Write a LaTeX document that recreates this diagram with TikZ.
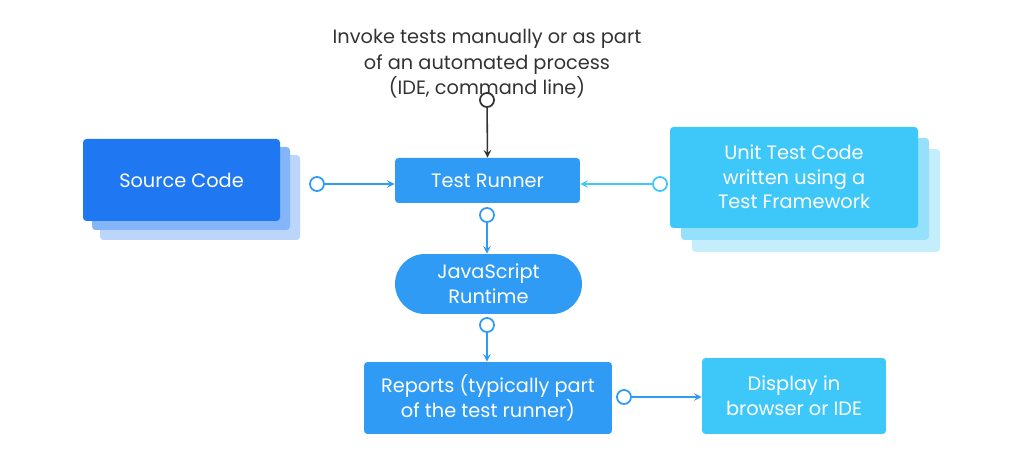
\documentclass[tikz,border=0pt]{standalone}
\usepackage{fontspec}
\setmainfont{Poppins}
\usepackage{tikz}
\usetikzlibrary{positioning}

\definecolor{deepblue}{HTML}{1F78F2}
\definecolor{midblue}{HTML}{2F9BF5}
\definecolor{skyblue}{HTML}{3EC8FA}
\definecolor{textgray}{HTML}{333333}

\tikzset{
  box/.style={rounded corners=2pt, text=white, align=center, font=\fontsize{11}{14}\selectfont},
  dot/.style={circle, draw, fill=white, line width=1pt, inner sep=0pt, minimum size=8pt},
  link/.style={->, >=stealth, line width=0.9pt}
}

\begin{document}
\begin{tikzpicture}[x=0.02cm, y=-0.02cm]
    \useasboundingbox (0,0) rectangle (1024,465);

    % Caption at the top
    \node[text=textgray, align=center, font=\fontsize{11}{14.5}\selectfont] (caption) at (487,64)
        {Invoke tests manually or as part\\of an automated process\\(IDE, command line)};

    % Stacked source code card
    \fill[deepblue!30, rounded corners=2pt] (100,155) rectangle (300,240);
    \fill[deepblue!55, rounded corners=2pt] (92,147) rectangle (290,230);
    \fill[deepblue, rounded corners=2pt] (83,139) rectangle (280,221);
    \node[box] (source) at (181.5,180) {Source Code};

    % Stacked unit test card
    \fill[skyblue!30, rounded corners=2pt] (692,149) rectangle (940,252);
    \fill[skyblue!55, rounded corners=2pt] (681,138) rectangle (929,240);
    \fill[skyblue, rounded corners=2pt] (670,127) rectangle (918,228);
    \node[box] (unit) at (794,177) {Unit Test Code\\written using a\\Test Framework};

    % Middle column
    \node[box, fill=midblue, minimum width=3.7cm, minimum height=0.9cm] (runner) at (487.5,180.5) {Test Runner};
    \node[box, fill=midblue, rounded corners=0.6cm, minimum width=3.74cm, minimum height=1.2cm] (runtime) at (488.5,284) {JavaScript\\Runtime};
    \node[box, fill=midblue, minimum width=4.96cm, minimum height=1.44cm] (reports) at (488,398) {Reports (typically part\\of the test runner)};
    \node[box, fill=skyblue, minimum width=3.68cm, minimum height=1.52cm] (display) at (794,396) {Display in\\browser or IDE};

    % Connectors with open dots at their tails
    \node[dot, draw=textgray] (d0) at (487,100) {};
    \draw[link, textgray] (d0) -- (runner.north);
    \node[dot, draw=midblue] (d1) at (317,184) {};
    \draw[link, midblue] (d1) -- (runner.west |- d1);
    \node[dot, draw=skyblue] (d2) at (660,184) {};
    \draw[link, skyblue] (d2) -- (runner.east |- d2);
    \node[dot, draw=midblue] (d3) at (487,215) {};
    \draw[link, midblue] (d3) -- (runtime.north -| d3);
    \node[dot, draw=midblue] (d4) at (487,325) {};
    \draw[link, midblue] (d4) -- (reports.north -| d4);
    \node[dot, draw=midblue] (d5) at (624,397) {};
    \draw[link, midblue] (d5) -- (display.west |- d5);
\end{tikzpicture}
\end{document}
